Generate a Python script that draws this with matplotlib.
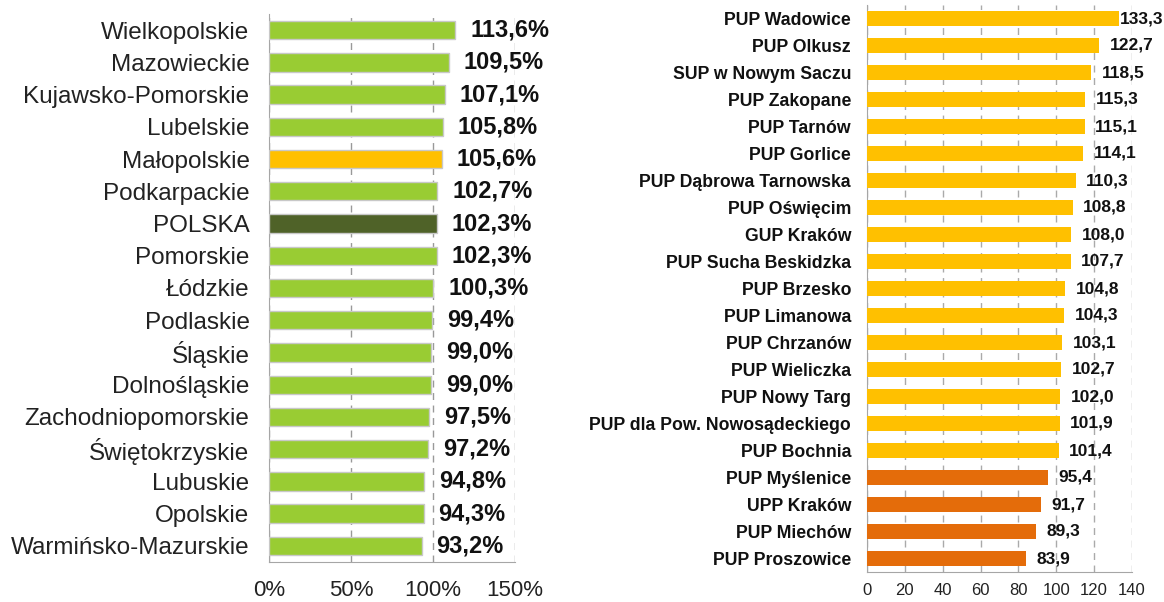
import matplotlib
matplotlib.use('Agg')
import matplotlib.pyplot as plt
from matplotlib.ticker import FuncFormatter

plt.rcParams['font.family'] = ['Liberation Sans', 'DejaVu Sans']

# lewy wykres - województwa
woj = ['Wielkopolskie', 'Mazowieckie', 'Kujawsko-Pomorskie', 'Lubelskie', 'Małopolskie',
       'Podkarpackie', 'POLSKA', 'Pomorskie', 'Łódzkie', 'Podlaskie', 'Śląskie',
       'Dolnośląskie', 'Zachodniopomorskie', 'Świętokrzyskie', 'Lubuskie', 'Opolskie',
       'Warmińsko-Mazurskie']
woj_val = [113.6, 109.5, 107.1, 105.8, 105.6, 102.7, 102.3, 102.3, 100.3, 99.4, 99.0,
           99.0, 97.5, 97.2, 94.8, 94.3, 93.2]

# prawy wykres - urzędy pracy
pup = ['PUP Wadowice', 'PUP Olkusz', 'SUP w Nowym Saczu', 'PUP Zakopane', 'PUP Tarnów',
       'PUP Gorlice', 'PUP Dąbrowa Tarnowska', 'PUP Oświęcim', 'GUP Kraków',
       'PUP Sucha Beskidzka', 'PUP Brzesko', 'PUP Limanowa', 'PUP Chrzanów',
       'PUP Wieliczka', 'PUP Nowy Targ', 'PUP dla Pow. Nowosądeckiego', 'PUP Bochnia',
       'PUP Myślenice', 'UPP Kraków', 'PUP Miechów', 'PUP Proszowice']
pup_val = [133.3, 122.7, 118.5, 115.3, 115.1, 114.1, 110.3, 108.8, 108.0, 107.7, 104.8,
           104.3, 103.1, 102.7, 102.0, 101.9, 101.4, 95.4, 91.7, 89.3, 83.9]

zielony = '#99CC33'
zolty = '#FFC000'
ciemny = '#4F6228'
pomar = '#E46C0A'
szary = '#A6A6A6'

fig = plt.figure(figsize=(11.64, 6.02), dpi=100)

# --- lewy ---
ax1 = fig.add_axes([269/1164, 1-562/602, 246/1164, 548/602])
kol1 = []
for n in woj:
    if n == 'Małopolskie':
        kol1.append(zolty)
    elif n == 'POLSKA':
        kol1.append(ciemny)
    else:
        kol1.append(zielony)
ax1.barh(range(len(woj)), woj_val, height=0.57, color=kol1, edgecolor='#C8C8C8', linewidth=1, zorder=3)
ax1.set_ylim(len(woj)-0.5, -0.5)
ax1.set_xlim(0, 150)
ax1.set_xticks([0, 50, 100, 150])
ax1.xaxis.set_major_formatter(FuncFormatter(lambda v, p: '%d%%' % v))
ax1.set_yticks(range(len(woj)))
ax1.set_yticklabels(woj, fontsize=17.5, color='#222222')
ax1.tick_params(axis='y', length=0, pad=14)
ax1.tick_params(axis='x', length=0, pad=13, labelsize=16, colors='#222222')
ax1.grid(axis='x', color='#999999', linestyle=(0, (5, 4)), linewidth=1, zorder=0)
for s in ['top', 'right']:
    ax1.spines[s].set_visible(False)
for s in ['left', 'bottom']:
    ax1.spines[s].set_color(szary)
for i, v in enumerate(woj_val):
    ax1.text(v + 9, i, ('%.1f%%' % v).replace('.', ','), va='center', ha='left',
             fontsize=17, fontweight='bold', color='#111111', zorder=4)

# --- prawy ---
ax2 = fig.add_axes([867/1164, 1-572/602, 265/1164, 567/602])
kol2 = [pomar if v < 100 else zolty for v in pup_val]
ax2.barh(range(len(pup)), pup_val, height=0.56, color=kol2, zorder=3)
ax2.set_ylim(len(pup)-0.5, -0.5)
ax2.set_xlim(0, 140)
ax2.set_xticks(range(0, 141, 20))
ax2.set_yticks(range(len(pup)))
ax2.set_yticklabels(pup, fontsize=12.7, fontweight='bold', color='#111111')
ax2.tick_params(axis='y', length=0, pad=11.5)
ax2.tick_params(axis='x', length=0, pad=8, labelsize=12, colors='#222222')
ax2.grid(axis='x', color='#AAAAAA', linestyle=(0, (5, 4)), linewidth=1, zorder=0)
for s in ['top', 'right']:
    ax2.spines[s].set_visible(False)
for s in ['left', 'bottom']:
    ax2.spines[s].set_color(szary)
for i, v in enumerate(pup_val):
    dx = 0.5 if v > 130 else 5.5
    ax2.text(v + dx, i, ('%.1f' % v).replace('.', ','), va='center', ha='left',
             fontsize=12.5, fontweight='bold', color='#111111', zorder=4, clip_on=False)

fig.savefig('out.png', dpi=100)
